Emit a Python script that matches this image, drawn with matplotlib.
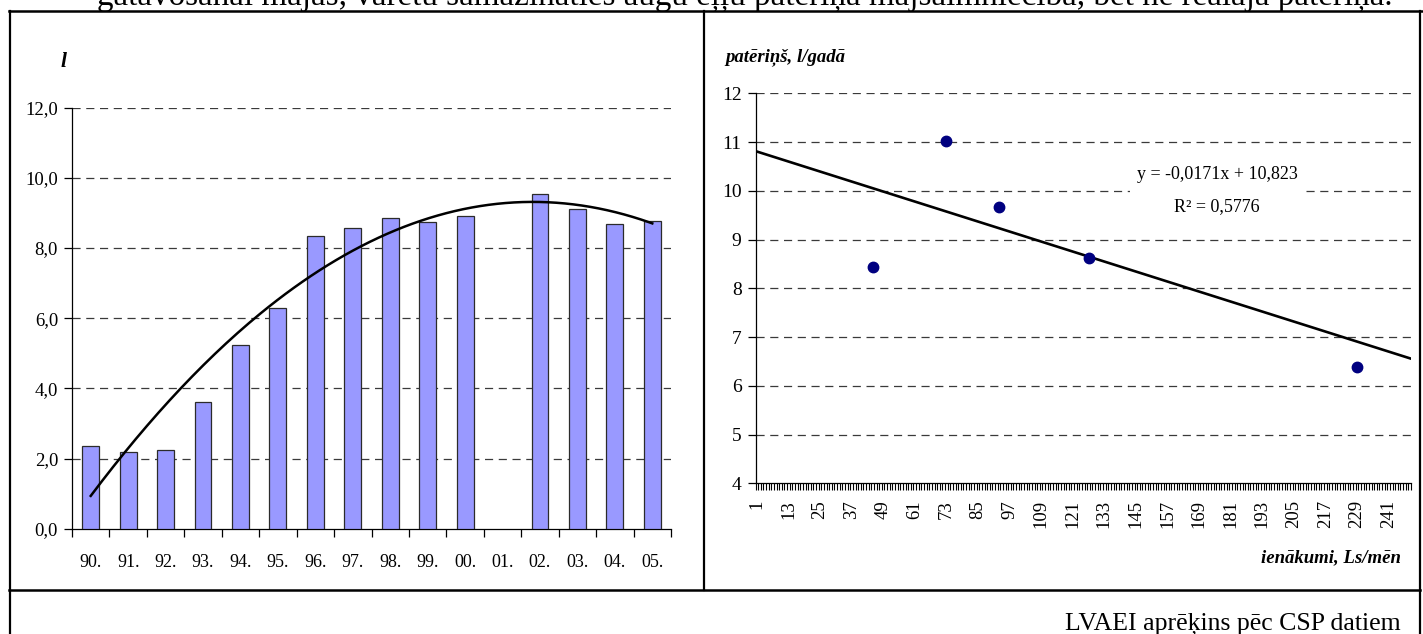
import numpy as np
import matplotlib
matplotlib.use("Agg")
import matplotlib.pyplot as plt
from matplotlib.lines import Line2D
from matplotlib.ticker import FixedLocator, NullFormatter

plt.rcParams['font.family'] = ['Liberation Serif', 'DejaVu Serif']

# ---- left chart: vegetable oil consumption per person by year ----
years = ['90.', '91.', '92.', '93.', '94.', '95.', '96.', '97.',
         '98.', '99.', '00.', '01.', '02.', '03.', '04.', '05.']
consumption = [2.35, 2.20, 2.24, 3.61, 5.25, 6.29, 8.35, 8.58,
               8.87, 8.73, 8.92, np.nan, 9.54, 9.10, 8.68, 8.77]
left_yticks = [0, 2, 4, 6, 8, 10, 12]
left_ylabels = ['0,0', '2,0', '4,0', '6,0', '8,0', '10,0', '12,0']

# ---- right chart: consumption against monthly income ----
income_categories = list(range(1, 250))
income = [45, 73, 93, 127, 229]
use_per_year = [8.44, 11.03, 9.67, 8.62, 6.39]
slope, intercept, r2 = -0.0171, 10.823, 0.5776
right_yticks = [4, 5, 6, 7, 8, 9, 10, 11, 12]

source_note = 'LVAEI aprēķins pēc CSP datiem'
top_line = ('gatavošanai mājās, varētu samazināties augu eļļu patēriņa '
            'mājsaimniecībā, bet ne reālajā patēriņā.')

W, H = 1423, 634
fig = plt.figure(figsize=(W / 100, H / 100), dpi=100)


def frac_box(x0, y0, x1, y1):
    """Pixel box (top-left origin) -> figure fraction rect."""
    return [x0 / W, 1 - y1 / H, (x1 - x0) / W, (y1 - y0) / H]


def hline_px(x0, x1, y, lw=1.5):
    fig.add_artist(Line2D([x0 / W, x1 / W], [1 - y / H, 1 - y / H],
                          transform=fig.transFigure, color='black', lw=lw))


def vline_px(x, y0, y1, lw=1.5):
    fig.add_artist(Line2D([x / W, x / W], [1 - y0 / H, 1 - y1 / H],
                          transform=fig.transFigure, color='black', lw=lw))


grid_kw = dict(color='#3a3a3a', lw=0.9, linestyle=(0, (6.5, 4.5)))

# ---------------- left chart ----------------
axL = fig.add_axes(frac_box(72, 107.7, 671, 528.7))
xpos = np.arange(len(years))
axL.bar(xpos, consumption, width=0.45, color='#9999FF',
        edgecolor='#2b2b2b', linewidth=0.9, zorder=3)

# polynomial trend fitted to the yearly values
valid = ~np.isnan(consumption)
coef = np.polyfit(xpos[valid], np.array(consumption)[valid], 2)
tt = np.linspace(0, len(years) - 1, 200)
axL.plot(tt, np.polyval(coef, tt), color='black', lw=1.8, zorder=4)

axL.set_xlim(-0.5, len(years) - 0.5)
axL.set_ylim(0, 12)
for v in left_yticks[1:]:
    axL.axhline(v, zorder=1, **grid_kw)
axL.set_yticks(left_yticks)
axL.set_yticklabels(left_ylabels)
axL.xaxis.set_major_locator(FixedLocator(xpos))
axL.set_xticklabels(years)
axL.xaxis.set_minor_locator(FixedLocator(np.arange(-0.5, len(years), 1.0)))
axL.tick_params(axis='x', which='major', length=0, pad=18, labelsize=13)
axL.tick_params(axis='x', which='minor', length=6, width=0.9, direction='out')
axL.tick_params(axis='y', length=6, width=0.9, pad=4, labelsize=13.5)
for s in ('top', 'right'):
    axL.spines[s].set_visible(False)
for s in ('left', 'bottom'):
    axL.spines[s].set_linewidth(0.9)
fig.text(64 / W, 1 - 62 / H, 'l', fontsize=15.5, fontweight='bold',
         fontstyle='italic', ha='center', va='center')

# ---------------- right chart ----------------
n_cat = len(income_categories)
axR = fig.add_axes(frac_box(755.5, 93.3, 1411, 483.3))
axR.set_xlim(0.5, n_cat + 0.5)
axR.set_ylim(4, 12)
for v in right_yticks[1:]:
    axR.axhline(v, zorder=1, **grid_kw)

xl = np.array([0.5, n_cat + 0.5])
axR.plot(xl, intercept + slope * xl, color='black', lw=1.9, zorder=3)
axR.plot(income, use_per_year, linestyle='none', marker='o',
         markersize=7.5, color='#000080', zorder=4)

axR.set_yticks(right_yticks)
axR.set_yticklabels([str(v) for v in right_yticks])
label_cats = income_categories[::12]
axR.xaxis.set_major_locator(FixedLocator(label_cats))
axR.set_xticklabels([str(c) for c in label_cats], rotation=90, va='top')
axR.xaxis.set_minor_locator(FixedLocator(np.arange(0.5, n_cat + 1, 1.0)))
axR.xaxis.set_minor_formatter(NullFormatter())
axR.tick_params(axis='x', which='major', length=0, pad=12, labelsize=13.5)
axR.tick_params(axis='x', which='minor', length=5, width=0.8,
                color='black', direction='out')
axR.tick_params(axis='y', length=6, width=0.9, pad=4, labelsize=14)
for s in ('top', 'right'):
    axR.spines[s].set_visible(False)
for s in ('left', 'bottom'):
    axR.spines[s].set_linewidth(0.9)

eq_text = 'y = -0,0171x + 10,823\nR² = ' + f'{r2:.4f}'.replace('.', ',')
fig.text(1217 / W, 1 - 190.5 / H, eq_text,
         fontsize=13, ha='center', va='center', linespacing=2.15,
         bbox=dict(facecolor='white', edgecolor='none', pad=5), zorder=5)

fig.text(725 / W, 1 - 57 / H, 'patēriņš, l/gadā', fontsize=13.5,
         fontweight='bold', fontstyle='italic', ha='left', va='center')
fig.text(1401 / W, 1 - 558 / H, 'ienākumi, Ls/mēn', fontsize=13.5,
         fontweight='bold', fontstyle='italic', ha='right', va='center')

# ---------------- table frame and surrounding text ----------------
hline_px(9, W, 11, lw=1.8)
vline_px(9.5, 11, H, lw=1.6)
vline_px(704, 11, 590, lw=1.6)
vline_px(1420, 11, H, lw=1.6)
hline_px(9, 1420, 590, lw=1.8)

fig.text(1401 / W, 1 - 629 / H, source_note, fontsize=18.5,
         ha='right', va='baseline')

t = fig.text(745 / W, 1 - 5 / H, top_line, fontsize=18.5,
             ha='center', va='baseline')
fig.canvas.draw()
bb = t.get_window_extent()
t.set_fontsize(18.5 * 1304 / bb.width)

fig.savefig('out.png', dpi=100)
